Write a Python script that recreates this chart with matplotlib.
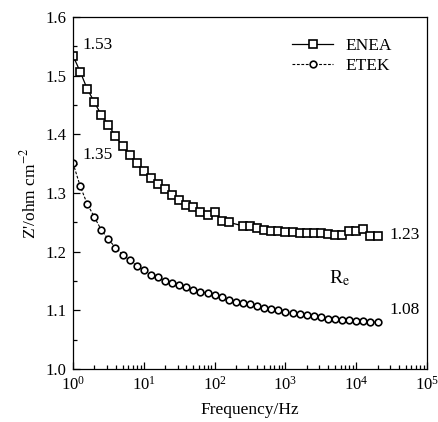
import numpy as np
import matplotlib

matplotlib.use("Agg")
import matplotlib.pyplot as plt

plt.rcParams["font.family"] = ["Liberation Serif", "DejaVu Serif"]
plt.rcParams["mathtext.fontset"] = "stix"
plt.rcParams["font.size"] = 12.5

# frequency points, 10 per decade (Hz)
freq = [1.0, 1.26, 1.58, 2.0, 2.51, 3.16, 3.98, 5.01, 6.31, 7.94,
        10.0, 12.6, 15.8, 20.0, 25.1, 31.6, 39.8, 50.1, 63.1, 79.4,
        100.0, 126.0, 158.0, 200.0, 251.0, 316.0, 398.0, 501.0, 631.0, 794.0,
        1000.0, 1260.0, 1580.0, 2000.0, 2510.0, 3160.0, 3980.0, 5010.0, 6310.0, 7940.0,
        10000.0, 12600.0, 15800.0, 20000.0]

# ENEA has no point at 200 Hz
enea = [1.534, 1.507, 1.478, 1.455, 1.433, 1.416, 1.397, 1.380, 1.365, 1.351,
        1.337, 1.326, 1.315, 1.306, 1.296, 1.288, 1.280, 1.276, 1.267, 1.262,
        1.268, 1.253, 1.250, None, 1.244, 1.243, 1.240, 1.237, 1.236, 1.235,
        1.234, 1.233, 1.232, 1.232, 1.231, 1.231, 1.230, 1.229, 1.229, 1.235,
        1.236, 1.238, 1.227, 1.227]

etek = [1.351, 1.312, 1.282, 1.259, 1.237, 1.221, 1.207, 1.195, 1.185, 1.176,
        1.168, 1.161, 1.156, 1.150, 1.147, 1.143, 1.139, 1.135, 1.132, 1.129,
        1.126, 1.122, 1.118, 1.115, 1.113, 1.110, 1.107, 1.104, 1.102, 1.100,
        1.097, 1.095, 1.093, 1.092, 1.090, 1.088, 1.086, 1.085, 1.084, 1.083,
        1.082, 1.081, 1.080, 1.080]

f_enea = [f for f, v in zip(freq, enea) if v is not None]
v_enea = [v for v in enea if v is not None]

fig = plt.figure(figsize=(4.38, 4.22), dpi=100)
ax = fig.add_axes([0.1667, 0.1256, 0.8083, 0.8341])

ax.plot(f_enea, v_enea, "-", color="black", lw=0.9, marker="s", ms=5.4,
        mfc="white", mec="black", mew=1.2, label="ENEA")
ax.plot(freq, etek, "--", color="black", lw=0.8, dashes=(2.5, 1.5), marker="o", ms=4.8,
        mfc="white", mec="black", mew=1.2, label="ETEK")

ax.set_xscale("log")
ax.set_xlim(1, 1e5)
ax.set_ylim(1.0, 1.6)
ax.set_yticks(np.arange(1.0, 1.61, 0.1))
ax.set_yticks(np.arange(1.05, 1.6, 0.1), minor=True)
ax.yaxis.set_major_formatter(plt.FormatStrFormatter("%.1f"))
ax.tick_params(which="both", direction="in", top=False, right=False, width=0.9)
ax.tick_params(which="major", length=5, labelsize=12, pad=5)
ax.tick_params(which="minor", length=3)
for s in ax.spines.values():
    s.set_linewidth(0.9)

ax.set_xlabel("Frequency/Hz", fontsize=12.5, labelpad=6)
ax.set_ylabel("Z'/ohm cm$^{-2}$", fontsize=12.5, labelpad=4)

ax.text(1.38, 1.552, "1.53", fontsize=12.5, va="center")
ax.text(1.38, 1.365, "1.35", fontsize=12.5, va="center")
ax.text(2.9e4, 1.228, "1.23", fontsize=12.5, va="center")
ax.text(2.9e4, 1.100, "1.08", fontsize=12.5, va="center")
ax.text(5.9e3, 1.155, "R$_\\mathrm{e}$", fontsize=14, va="center", ha="center")

ax.legend(loc="upper right", frameon=False, fontsize=12.5, handlelength=2.4,
          handletextpad=0.7, labelspacing=0.2, borderaxespad=0.3,
          bbox_to_anchor=(0.935, 0.975))

fig.savefig("out.png", dpi=100)
